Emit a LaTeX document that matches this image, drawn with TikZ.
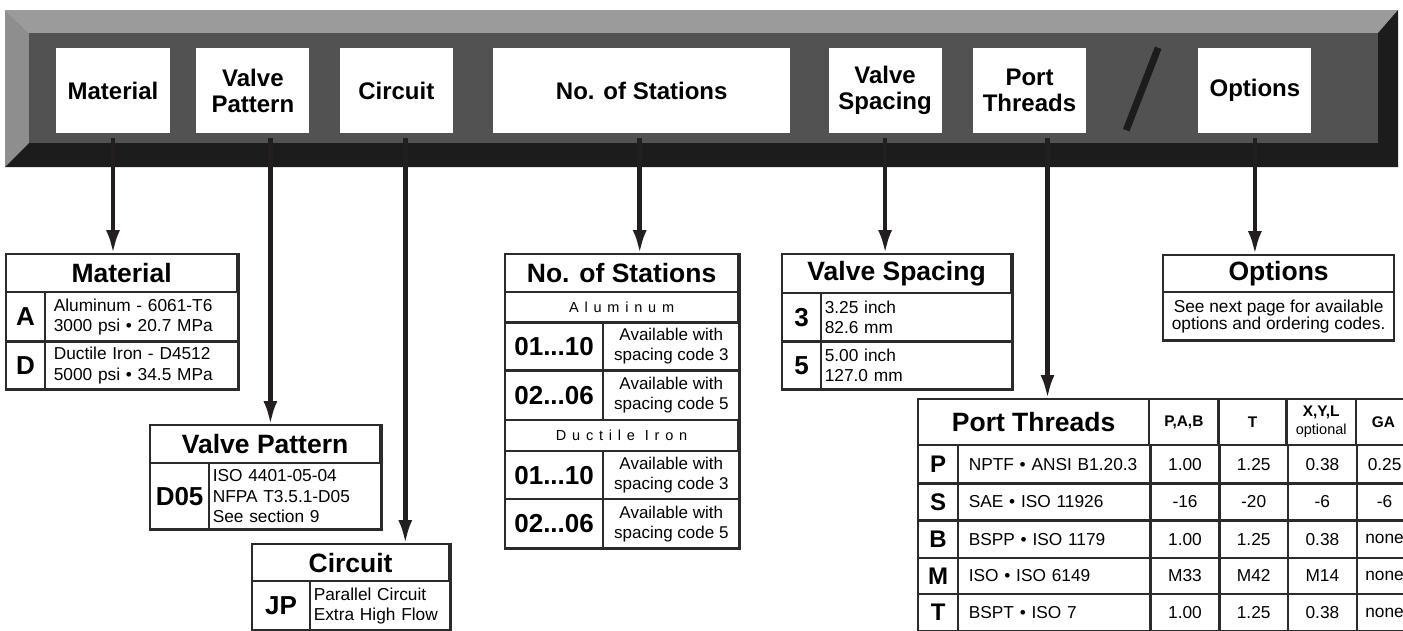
\documentclass[tikz,border=0pt]{standalone}
\usepackage{fontspec}
\setmainfont{Liberation Sans}
\newfontfamily\spacedfont[LetterSpace=40]{Liberation Sans}
\usetikzlibrary{arrows.meta, positioning, calc}

\definecolor{barlight}{HTML}{9B9B9B}
\definecolor{barside}{HTML}{8E8E8E}
\definecolor{barface}{HTML}{525252}
\definecolor{bardark}{HTML}{1C1C1C}
\definecolor{inkc}{HTML}{231F20}
\definecolor{rulec}{HTML}{2B2B2B}

\newcommand{\barlabel}{\fontsize{24}{26}\selectfont\bfseries}
\newcommand{\headlabel}{\fontsize{26.5}{28}\selectfont\bfseries}
\newcommand{\codelabel}{\fontsize{26}{28}\selectfont\bfseries}
\newcommand{\portcode}{\fontsize{24}{26}\selectfont\bfseries}
\newcommand{\desclabel}{\fontsize{17.3}{20.5}\selectfont}
\newcommand{\availlabel}{\fontsize{17}{20}\selectfont}
\newcommand{\optlabel}{\fontsize{17.3}{16}\selectfont}
\newcommand{\colhead}{\fontsize{15.4}{18}\selectfont\bfseries}
\newcommand{\metallabel}{\fontsize{14.5}{16}\spacedfont}

\begin{document}
\begin{tikzpicture} [
    x=1pt, y=-1pt,
    barbox/.style={fill=white, minimum width=113pt, minimum height=85pt, inner sep=0pt, align=center, font=\barlabel},
    cell/.style={draw=rulec, line width=1.2pt, anchor=north west, inner sep=0pt},
    wh/.style 2 args={minimum width=#1pt, minimum height=#2pt},
    head/.style={cell, font=\headlabel},
    code/.style={cell, font=\codelabel},
    desc/.style={cell, font=\desclabel, align=left, inner xsep=3pt},
    mid/.style={cell, font=\availlabel, align=center},
    num/.style={cell, font=\desclabel},
    frame/.style={draw=rulec, line width=2.4pt},
    line/.style={draw=inkc, line width=4.5pt, -{Latex[length=24pt, width=14pt]}}
]
    \useasboundingbox[fill=white] (0,0) rectangle (1403,630);

    % Bar
    \coordinate (otl) at (5,10);
    \coordinate (otr) at (1398,10);
    \coordinate (obr) at (1398,167);
    \coordinate (obl) at (5,167);
    \coordinate (itl) at (29,33);
    \coordinate (itr) at (1378,33);
    \coordinate (ibr) at (1378,143);
    \coordinate (ibl) at (29,143);
    \fill[barlight] (otl) -- (otr) -- (itr) -- (itl) -- cycle;
    \fill[barside] (otl) -- (itl) -- (ibl) -- (obl) -- cycle;
    \fill[bardark] (obl) -- (ibl) -- (ibr) -- (itr) -- (otr) -- (obr) -- cycle;
    \fill[barface] (itl) rectangle (ibr);

    % Nodes in the bar
    \node[barbox, minimum width=114pt] (matbox) at (113,90.5) {Material};
    \node[barbox, right=26pt of matbox] (vpbox) {Valve\\Pattern};
    \node[barbox, right=30pt of vpbox] (cirbox) {Circuit};
    \node[barbox, right=40pt of cirbox, minimum width=297pt] (stnbox) {No. of Stations};
    \node[barbox, right=38pt of stnbox] (vsbox) {Valve\\Spacing};
    \node[barbox, right=31pt of vsbox] (ptbox) {Port\\Threads};
    \node[barbox, right=112pt of ptbox] (optbox) {Options};
    \draw[bardark, line width=7pt] ($(ptbox.north east)!.5!(optbox.north west)+(16,0)$) -- ($(ptbox.south east)!.5!(optbox.south west)+(-16,-3)$);

    % Material
    \node[head, wh={230}{37}] (mathead) at (6,254) {Material};
    \node[code, wh={38}{48}] (matA) at (mathead.south west) {A};
    \node[desc, wh={192}{48}, text width=176pt, inner xsep=8pt] (matAtxt) at (matA.north east) {Aluminum - 6061-T6\\3000 psi • 20.7 MPa};
    \node[code, wh={38}{47}] (matD) at (matA.south west) {D};
    \node[desc, wh={192}{47}, text width=176pt, inner xsep=8pt] (matDtxt) at (matD.north east) {Ductile Iron - D4512\\5000 psi • 34.5 MPa};
    \draw[frame] (mathead.north west) rectangle (matDtxt.south east);

    % Valve Pattern
    \node[head, wh={229}{37}] (vphead) at (150,425) {Valve Pattern};
    \node[code, wh={58}{65}] (vpD) at (vphead.south west) {D05};
    \node[desc, wh={171}{65}, text width=165pt] (vpDtxt) at (vpD.north east) {ISO 4401-05-04\\NFPA T3.5.1-D05\\See section 9};
    \draw[frame] (vphead.north west) rectangle (vpDtxt.south east);

    % Circuit
    \node[head, wh={196}{36}] (cirhead) at (252,544) {Circuit};
    \node[code, wh={57}{48}] (cirJP) at (cirhead.south west) {JP};
    \node[desc, wh={139}{48}, text width=133pt] (cirJPtxt) at (cirJP.north east) {Parallel Circuit\\Extra High Flow};
    \draw[frame] (cirhead.north west) rectangle (cirJPtxt.south east);

    % No. of Stations
    \node[head, wh={232}{37}] (stnhead) at (505,254) {No. of Stations};
    \node[cell, wh={232}{29}, font=\metallabel] (stnal) at (stnhead.south west) {Aluminum};
    \node[code, wh={97}{47}] (stnA1) at (stnal.south west) {01...10};
    \node[mid, wh={135}{47}] (stnA1txt) at (stnA1.north east) {Available with\\spacing code 3};
    \node[code, wh={97}{48}] (stnA2) at (stnA1.south west) {02...06};
    \node[mid, wh={135}{48}] (stnA2txt) at (stnA2.north east) {Available with\\spacing code 5};
    \node[cell, wh={232}{30}, font=\metallabel] (stndi) at (stnA2.south west) {Ductile Iron};
    \node[code, wh={97}{47}] (stnD1) at (stndi.south west) {01...10};
    \node[mid, wh={135}{47}] (stnD1txt) at (stnD1.north east) {Available with\\spacing code 3};
    \node[code, wh={97}{48}] (stnD2) at (stnD1.south west) {02...06};
    \node[mid, wh={135}{48}] (stnD2txt) at (stnD2.north east) {Available with\\spacing code 5};
    \draw[frame] (stnhead.north west) rectangle (stnD2txt.south east);

    % Valve Spacing
    \node[head, wh={228}{38}] (vshead) at (782,254) {Valve Spacing};
    \node[code, wh={38}{47}] (vs3) at (vshead.south west) {3};
    \node[desc, wh={190}{47}, text width=184pt] (vs3txt) at (vs3.north east) {3.25 inch\\82.6 mm};
    \node[code, wh={38}{47}] (vs5) at (vs3.south west) {5};
    \node[desc, wh={190}{47}, text width=184pt] (vs5txt) at (vs5.north east) {5.00 inch\\127.0 mm};
    \draw[frame] (vshead.north west) rectangle (vs5txt.south east);

    % Options
    \node[head, wh={230}{36}] (opthead) at (1163,255) {Options};
    \node[mid, wh={230}{47}, font=\optlabel] (opttxt) at (opthead.south west) {See next page for available\\options and ordering codes.};
    \draw[frame] (opthead.north west) rectangle (opttxt.south east);

    % Port Threads
    \node[head, wh={230}{45}] (pthead) at (918,399) {Port Threads};
    \node[cell, wh={68}{45}, font=\colhead] (ptpab) at (pthead.north east) {P,A,B};
    \node[cell, wh={67}{45}, font=\colhead] (ptt) at (ptpab.north east) {T};
    \node[cell, wh={68}{45}, font=\colhead, align=center] (ptxyl) at (ptt.north east) {X,Y,L\\{\mdseries\fontsize{14.5}{16}\selectfont optional}};
    \node[cell, wh={54}{45}, font=\colhead] (ptga) at (ptxyl.north east) {GA};

    \node[code, wh={39}{37}, font=\portcode] (ptP) at (pthead.south west) {P};
    \node[desc, wh={191}{37}, text width=171pt, inner xsep=10pt] (ptPtxt) at (ptP.north east) {NPTF • ANSI B1.20.3};
    \node[num, wh={68}{37}] (ptP1) at (ptPtxt.north east) {1.00};
    \node[num, wh={67}{37}] (ptP2) at (ptP1.north east) {1.25};
    \node[num, wh={68}{37}] (ptP3) at (ptP2.north east) {0.38};
    \node[num, wh={54}{37}] (ptP4) at (ptP3.north east) {0.25};

    \node[code, wh={39}{36}, font=\portcode] (ptS) at (ptP.south west) {S};
    \node[desc, wh={191}{36}, text width=171pt, inner xsep=10pt] (ptStxt) at (ptS.north east) {SAE • ISO 11926};
    \node[num, wh={68}{36}] (ptS1) at (ptStxt.north east) {-16};
    \node[num, wh={67}{36}] (ptS2) at (ptS1.north east) {-20};
    \node[num, wh={68}{36}] (ptS3) at (ptS2.north east) {-6};
    \node[num, wh={54}{36}] (ptS4) at (ptS3.north east) {-6};

    \node[code, wh={39}{36}, font=\portcode] (ptB) at (ptS.south west) {B};
    \node[desc, wh={191}{36}, text width=171pt, inner xsep=10pt] (ptBtxt) at (ptB.north east) {BSPP • ISO 1179};
    \node[num, wh={68}{36}] (ptB1) at (ptBtxt.north east) {1.00};
    \node[num, wh={67}{36}] (ptB2) at (ptB1.north east) {1.25};
    \node[num, wh={68}{36}] (ptB3) at (ptB2.north east) {0.38};
    \node[num, wh={54}{36}] (ptB4) at (ptB3.north east) {none};

    \node[code, wh={39}{35}, font=\portcode] (ptM) at (ptB.south west) {M};
    \node[desc, wh={191}{35}, text width=171pt, inner xsep=10pt] (ptMtxt) at (ptM.north east) {ISO • ISO 6149};
    \node[num, wh={68}{35}] (ptM1) at (ptMtxt.north east) {M33};
    \node[num, wh={67}{35}] (ptM2) at (ptM1.north east) {M42};
    \node[num, wh={68}{35}] (ptM3) at (ptM2.north east) {M14};
    \node[num, wh={54}{35}] (ptM4) at (ptM3.north east) {none};

    \node[code, wh={39}{36}, font=\portcode] (ptT) at (ptM.south west) {T};
    \node[desc, wh={191}{36}, text width=171pt, inner xsep=10pt] (ptTtxt) at (ptT.north east) {BSPT • ISO 7};
    \node[num, wh={68}{36}] (ptT1) at (ptTtxt.north east) {1.00};
    \node[num, wh={67}{36}] (ptT2) at (ptT1.north east) {1.25};
    \node[num, wh={68}{36}] (ptT3) at (ptT2.north east) {0.38};
    \node[num, wh={54}{36}] (ptT4) at (ptT3.north east) {none};
    \draw[frame] (pthead.north west) rectangle (ptT4.south east);

    % Arrows
    \coordinate (matarr) at ([yshift=-5pt]matbox.south);
    \coordinate (vparr) at ([xshift=17.5pt, yshift=-5pt]vpbox.south);
    \coordinate (cirarr) at ([xshift=9pt, yshift=-5pt]cirbox.south);
    \coordinate (stnarr) at ([xshift=-2pt, yshift=-5pt]stnbox.south);
    \coordinate (vsarr) at ([yshift=-5pt]vsbox.south);
    \coordinate (ptarr) at ([xshift=18pt, yshift=-5pt]ptbox.south);
    \coordinate (optarr) at ([yshift=-5pt]optbox.south);
    \path [line] (matarr) -- (matarr |- mathead.north);
    \path [line] (vparr) -- (vparr |- vphead.north);
    \path [line] (cirarr) -- (cirarr |- cirhead.north);
    \path [line] (stnarr) -- (stnarr |- stnhead.north);
    \path [line] (vsarr) -- (vsarr |- vshead.north);
    \path [line] (ptarr) -- (ptarr |- pthead.north);
    \path [line] (optarr) -- (optarr |- opthead.north);

\end{tikzpicture}
\end{document}
